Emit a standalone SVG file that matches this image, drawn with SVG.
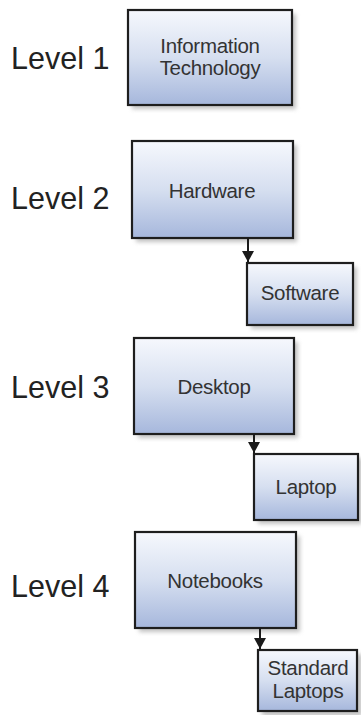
<svg xmlns="http://www.w3.org/2000/svg" width="361" height="715" viewBox="0 0 361 715">
<defs>
<linearGradient id="fill" x1="0" y1="0" x2="0" y2="1">
<stop offset="0" stop-color="#f6f8fd"/>
<stop offset="0.5" stop-color="#d6dff0"/>
<stop offset="1" stop-color="#a6b7dc"/>
</linearGradient>
<filter id="sh" x="-10%" y="-10%" width="130%" height="130%">
<feGaussianBlur stdDeviation="2"/>
</filter>
<marker id="ah" markerWidth="11" markerHeight="12" refX="11" refY="6" orient="auto" markerUnits="userSpaceOnUse" viewBox="0 0 11 12">
<path d="M0,0 L11,6 L0,12 Z" fill="#1a1a1a"/>
</marker>
</defs>
<style>
.lvl{font-family:"Liberation Sans",Arial,sans-serif;font-size:30.5px;fill:#222}
.t{font-family:"Liberation Sans",Arial,sans-serif;font-size:20.5px;fill:#333;text-anchor:middle;letter-spacing:-0.3px}
.box{fill:url(#fill);stroke:#1e1e1e;stroke-width:2.2}
.shadow{fill:#9a9a9a;opacity:0.6;filter:url(#sh)}
.conn{stroke:#1a1a1a;stroke-width:2;fill:none}
</style>
<g id="levels">
<text class="lvl" x="11" y="69">Level 1</text>
<text class="lvl" x="11" y="209">Level 2</text>
<text class="lvl" x="11" y="398">Level 3</text>
<text class="lvl" x="11" y="597">Level 4</text>
</g>
<g id="n-it">
<rect class="shadow" x="132" y="14" width="164" height="95"/>
<rect class="box" x="128" y="10" width="164" height="95"/>
<text class="t" x="210" y="53">Information</text>
<text class="t" x="210" y="75">Technology</text>
</g>
<g id="n-hardware">
<rect class="shadow" x="136" y="145" width="161" height="97"/>
<rect class="box" x="132" y="141" width="161" height="97"/>
<text class="t" x="212" y="198">Hardware</text>
</g>
<g id="n-software">
<rect class="shadow" x="251" y="267" width="106" height="62"/>
<rect class="box" x="247" y="263" width="106" height="62"/>
<text class="t" x="300" y="300">Software</text>
</g>
<g id="n-desktop">
<rect class="shadow" x="138" y="342" width="160" height="96"/>
<rect class="box" x="134" y="338" width="160" height="96"/>
<text class="t" x="214" y="394">Desktop</text>
</g>
<g id="n-laptop">
<rect class="shadow" x="258" y="458" width="104" height="66"/>
<rect class="box" x="254" y="454" width="104" height="66"/>
<text class="t" x="306" y="494">Laptop</text>
</g>
<g id="n-notebooks">
<rect class="shadow" x="139" y="536" width="161" height="96"/>
<rect class="box" x="135" y="532" width="161" height="96"/>
<text class="t" x="215" y="588">Notebooks</text>
</g>
<g id="n-stdlaptops">
<rect class="shadow" x="262" y="654" width="100" height="62"/>
<rect class="box" x="258" y="650" width="99" height="61"/>
<text class="t" x="308" y="675">Standard</text>
<text class="t" x="308" y="698">Laptops</text>
</g>
<g id="connectors">
<line class="conn" x1="248" y1="238" x2="248" y2="262" marker-end="url(#ah)"/>
<line class="conn" x1="254" y1="434" x2="254" y2="453" marker-end="url(#ah)"/>
<line class="conn" x1="260" y1="628" x2="260" y2="649" marker-end="url(#ah)"/>
</g>
</svg>
